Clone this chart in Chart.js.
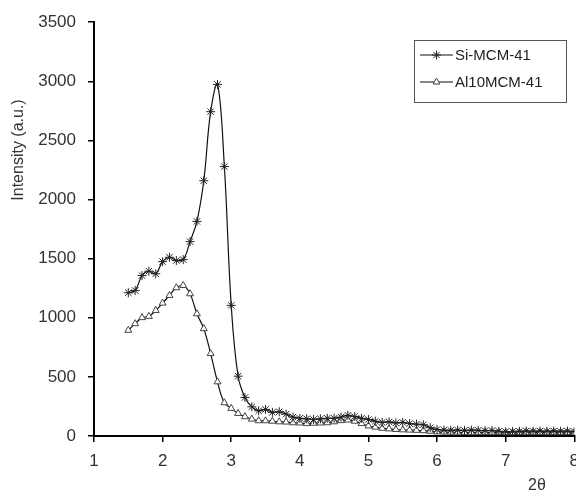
<!DOCTYPE html>
<html>
<head>
<meta charset="utf-8">
<script src="https://cdn.jsdelivr.net/npm/chart.js@4.4.0/dist/chart.umd.min.js"></script>
<style>
  body { margin: 0; background: #fff; }
  #wrap { width: 576px; height: 491px; overflow: hidden; position: relative; }
</style>
</head>
<body>
<div id="wrap"><canvas id="xrd" width="588" height="491"></canvas></div>
<script>
const twoTheta = [
  1.5, 1.6, 1.7, 1.8, 1.9, 2.0, 2.1, 2.2, 2.3, 2.4, 2.5, 2.6, 2.7, 2.8, 2.9,
  3.0, 3.1, 3.2, 3.3, 3.4, 3.5, 3.6, 3.7, 3.8, 3.9, 4.0, 4.1, 4.2, 4.3, 4.4,
  4.5, 4.6, 4.7, 4.8, 4.9, 5.0, 5.1, 5.2, 5.3, 5.4, 5.5, 5.6, 5.7, 5.8, 5.9,
  6.0, 6.1, 6.2, 6.3, 6.4, 6.5, 6.6, 6.7, 6.8, 6.9, 7.0, 7.1, 7.2, 7.3, 7.4,
  7.5, 7.6, 7.7, 7.8, 7.9, 8.0
];
const siMCM41 = [
  1212, 1231, 1357, 1394, 1372, 1475, 1512, 1484, 1492, 1644, 1815, 2159, 2743, 2974, 2279,
  1105, 506, 326, 247, 213, 225, 200, 205, 185, 160, 150, 145, 140, 145, 150,
  150, 160, 175, 165, 150, 140, 125, 115, 120, 110, 115, 105, 100, 95, 70,
  55, 50, 48, 50, 47, 50, 48, 45, 47, 40, 35, 38, 40, 42, 40,
  42, 40, 42, 40, 42, 38
];
const al10MCM41 = [
  894, 950, 1001, 1012, 1062, 1124, 1189, 1254, 1273, 1203, 1034, 908, 697, 458, 281,
  234, 191, 163, 143, 129, 129, 125, 120, 118, 112, 110, 105, 108, 110, 112,
  120, 130, 135, 125, 105, 85, 75, 65, 60, 55, 52, 50, 48, 45, 40,
  35, 33, 32, 32, 30, 31, 30, 30, 29, 30, 28, 29, 30, 30, 29,
  30, 29, 30, 29, 30, 28
];
const yTicks = [0, 500, 1000, 1500, 2000, 2500, 3000, 3500];

const font = "'Liberation Sans', Arial, sans-serif";

// legend box drawn inside the plot, like the Excel original
const boxLegend = {
  id: 'boxLegend',
  afterDraw(chart) {
    const ctx = chart.ctx;
    ctx.save();
    ctx.strokeStyle = '#555';
    ctx.lineWidth = 1;
    ctx.strokeRect(414.5, 40.5, 152, 62);
    chart.data.datasets.forEach((ds, i) => {
      const y = 55 + i * 27;
      ctx.strokeStyle = ds.borderColor;
      ctx.lineWidth = 1.2;
      ctx.beginPath();
      ctx.moveTo(420, y);
      ctx.lineTo(453, y);
      ctx.stroke();
      ctx.fillStyle = ds.pointBackgroundColor;
      ctx.strokeStyle = ds.pointBorderColor;
      ctx.lineWidth = 1;
      Chart.helpers.drawPoint(ctx, {
        pointStyle: ds.pointStyle, radius: ds.pointRadius, borderWidth: 1, rotation: 0
      }, 436.5, y);
      ctx.fillStyle = '#222';
      ctx.font = '15px ' + font;
      ctx.textBaseline = 'middle';
      ctx.fillText(ds.label, 455, y + 1);
    });
    // axis titles
    ctx.fillStyle = '#333';
    ctx.font = '16px ' + font;
    ctx.textAlign = 'center';
    ctx.textBaseline = 'middle';
    ctx.fillText('2θ', 537, 486);
    ctx.translate(19, 150);
    ctx.rotate(-Math.PI / 2);
    ctx.fillText('Intensity (a.u.)', 0, 0);
    ctx.restore();
  }
};

new Chart(document.getElementById('xrd'), {
  type: 'line',
  data: {
    datasets: [
      {
        label: 'Si-MCM-41',
        data: twoTheta.map((t, i) => ({ x: t, y: siMCM41[i] })),
        borderColor: '#111',
        borderWidth: 1.2,
        pointStyle: 'star',
        pointRadius: 4.5,
        pointBorderColor: '#222',
        pointBackgroundColor: '#222',
        pointBorderWidth: 1,
        tension: 0.4,
        fill: false
      },
      {
        label: 'Al10MCM-41',
        data: twoTheta.map((t, i) => ({ x: t, y: al10MCM41[i] })),
        borderColor: '#111',
        borderWidth: 1.2,
        pointStyle: 'triangle',
        pointRadius: 4,
        pointBorderColor: '#444',
        pointBackgroundColor: '#fff',
        pointBorderWidth: 1,
        tension: 0.4,
        fill: false
      }
    ]
  },
  options: {
    responsive: false,
    animation: false,
    layout: { padding: { top: 21, left: 0, right: 0, bottom: 0 } },
    plugins: { legend: { display: false }, tooltip: { enabled: false } },
    scales: {
      x: {
        type: 'linear',
        min: 1,
        max: 8,
        ticks: { stepSize: 1, color: '#333', font: { family: font, size: 17 }, padding: 9 },
        grid: { drawOnChartArea: false, drawTicks: true, tickLength: 6, color: '#000', lineWidth: 1.5 },
        border: { color: '#000', width: 2 },
        afterFit(scale) { scale.height = 55; }
      },
      y: {
        min: 0,
        max: 3500,
        afterBuildTicks(scale) { scale.ticks = yTicks.map(v => ({ value: v })); },
        ticks: {
          color: '#333', font: { family: font, size: 17 }, padding: 12,
          callback: v => String(v)
        },
        grid: { drawOnChartArea: false, drawTicks: true, tickLength: 6, color: '#000', lineWidth: 1.5 },
        border: { color: '#000', width: 2 },
        afterFit(scale) { scale.width = 94; }
      }
    }
  },
  plugins: [boxLegend]
});
</script>
</body>
</html>
